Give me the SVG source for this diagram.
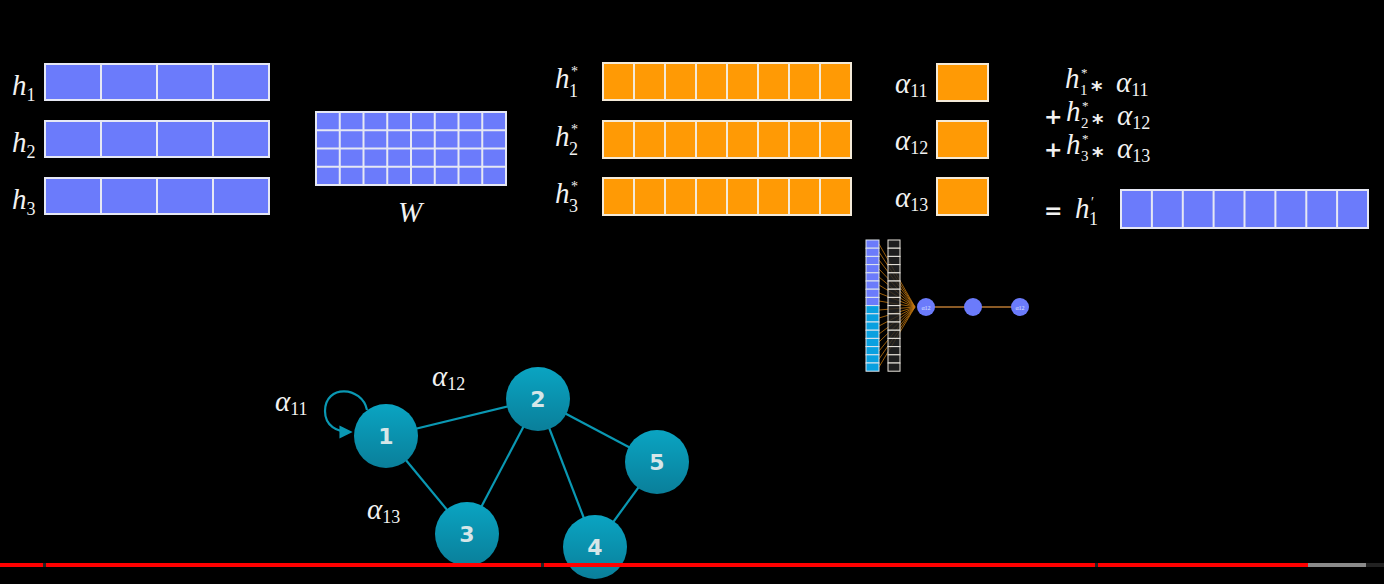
<svg xmlns="http://www.w3.org/2000/svg" width="1384" height="584" viewBox="0 0 1384 584">
<defs>
<style>
.m{font-family:"Liberation Serif","DejaVu Serif",serif;fill:#f2f2f2}
.it{font-style:italic}
.big{font-size:29px}
.sub{font-size:18px}
.fs{font-size:15px}
.fp{font-size:13px}
.sup{font-size:14px}
.op{font-family:"DejaVu Sans","Liberation Sans",sans-serif;font-size:22px;font-weight:bold}
.blue{fill:#6b7bfb;stroke:#e6e8f4;stroke-width:2}
.org{fill:#ff9a05;stroke:#f4ead8;stroke-width:2}
.div{stroke:#e6e8f4;stroke-width:2}
.odiv{stroke:#f4ead8;stroke-width:2}
.edge{stroke:#0a98b3;stroke-width:2.2;fill:none}
.node circle{fill:url(#ng)}
.node text{font-family:"DejaVu Sans","Liberation Sans",sans-serif;font-weight:bold;font-size:22px;fill:#d6e6e8;text-anchor:middle}
.fan{stroke:#e38c12;stroke-width:0.8;opacity:0.85}
.sc{fill:#6b7bfb}
</style>
<linearGradient id="ng" x1="0" y1="0" x2="0" y2="1">
<stop offset="0" stop-color="#0aa4c2"/>
<stop offset="1" stop-color="#0a7f9a"/>
</linearGradient>
<marker id="arr" viewBox="0 0 10 10" refX="8" refY="5" markerWidth="6" markerHeight="6" orient="auto">
<path d="M0,0 L10,5 L0,10 z" fill="#0a98b3"/>
</marker>
</defs>
<rect width="1384" height="584" fill="#000"/>

<!-- h vectors -->
<g id="h1">
<text class="m" x="12" y="95"><tspan class="it big">h</tspan><tspan class="sub" dy="6">1</tspan></text>
<rect class="blue" x="45" y="64" width="224" height="36"/>
<path class="div" d="M101 64V100M157 64V100M213 64V100"/>
</g>
<g id="h2">
<text class="m" x="12" y="152"><tspan class="it big">h</tspan><tspan class="sub" dy="6">2</tspan></text>
<rect class="blue" x="45" y="121" width="224" height="36"/>
<path class="div" d="M101 121V157M157 121V157M213 121V157"/>
</g>
<g id="h3">
<text class="m" x="12" y="209"><tspan class="it big">h</tspan><tspan class="sub" dy="6">3</tspan></text>
<rect class="blue" x="45" y="178" width="224" height="36"/>
<path class="div" d="M101 178V214M157 178V214M213 178V214"/>
</g>

<!-- W -->
<g id="W">
<rect class="blue" x="316" y="112" width="190" height="73"/>
<path class="div" d="M339.75 112V185M363.5 112V185M387.25 112V185M411 112V185M434.75 112V185M458.5 112V185M482.25 112V185M316 130.25H506M316 148.5H506M316 166.75H506"/>
<text class="m it big" x="410" y="222" text-anchor="middle">W</text>
</g>

<!-- h* vectors -->
<g id="hs1">
<text class="m" x="555" y="88"><tspan class="it big">h</tspan><tspan class="sup" x="571" y="76">*</tspan><tspan class="sub" x="569" y="97">1</tspan></text>
<rect class="org" x="603" y="63" width="248" height="37"/>
<path class="odiv" d="M634 63V100M665 63V100M696 63V100M727 63V100M758 63V100M789 63V100M820 63V100"/>
</g>
<g id="hs2">
<text class="m" x="555" y="146"><tspan class="it big">h</tspan><tspan class="sup" x="571" y="134">*</tspan><tspan class="sub" x="569" y="155">2</tspan></text>
<rect class="org" x="603" y="121" width="248" height="37"/>
<path class="odiv" d="M634 121V158M665 121V158M696 121V158M727 121V158M758 121V158M789 121V158M820 121V158"/>
</g>
<g id="hs3">
<text class="m" x="555" y="203"><tspan class="it big">h</tspan><tspan class="sup" x="571" y="191">*</tspan><tspan class="sub" x="569" y="212">3</tspan></text>
<rect class="org" x="603" y="178" width="248" height="37"/>
<path class="odiv" d="M634 178V215M665 178V215M696 178V215M727 178V215M758 178V215M789 178V215M820 178V215"/>
</g>

<!-- alpha boxes -->
<g id="a11">
<text class="m" x="895" y="93"><tspan class="it big">α</tspan><tspan class="sub" dy="4">11</tspan></text>
<rect class="org" x="937" y="64" width="51" height="37" stroke-width="1"/>
</g>
<g id="a12">
<text class="m" x="895" y="150"><tspan class="it big">α</tspan><tspan class="sub" dy="4">12</tspan></text>
<rect class="org" x="937" y="121" width="51" height="37" stroke-width="1"/>
</g>
<g id="a13">
<text class="m" x="895" y="207"><tspan class="it big">α</tspan><tspan class="sub" dy="4">13</tspan></text>
<rect class="org" x="937" y="178" width="51" height="37" stroke-width="1"/>
</g>

<!-- sum formula -->
<g id="formula">
<text class="m" x="1065" y="88"><tspan class="it big">h</tspan><tspan class="fp" x="1081" y="77">*</tspan><tspan class="fs" x="1080" y="95">1</tspan><tspan class="op" x="1091" y="97">*</tspan><tspan class="it big" x="1116" y="92">α</tspan><tspan class="sub" dy="4">11</tspan></text>
<text class="m" x="1044" y="121"><tspan class="op" y="124">+</tspan><tspan class="it big" x="1066" y="121">h</tspan><tspan class="fp" x="1082" y="110">*</tspan><tspan class="fs" x="1081" y="128">2</tspan><tspan class="op" x="1092" y="130">*</tspan><tspan class="it big" x="1117" y="125">α</tspan><tspan class="sub" dy="4">12</tspan></text>
<text class="m" x="1044" y="154"><tspan class="op" y="157">+</tspan><tspan class="it big" x="1066" y="154">h</tspan><tspan class="fp" x="1082" y="143">*</tspan><tspan class="fs" x="1081" y="161">3</tspan><tspan class="op" x="1092" y="163">*</tspan><tspan class="it big" x="1117" y="158">α</tspan><tspan class="sub" dy="4">13</tspan></text>
</g>
<g id="h1prime">
<text class="m" x="1044" y="218"><tspan class="op" font-weight="normal">=</tspan><tspan class="it big" x="1075">h</tspan><tspan class="sup" x="1091" y="207">′</tspan><tspan class="sub" x="1089" y="225">1</tspan></text>
<rect class="blue" x="1121" y="190" width="247" height="38"/>
<path class="div" d="M1151.9 190V228M1182.8 190V228M1213.6 190V228M1244.5 190V228M1275.4 190V228M1306.3 190V228M1337.1 190V228"/>
</g>

<!-- small network -->
<g id="mininet">
<g class="fan">
<line x1="879" y1="244" x2="915" y2="307"/><line x1="879" y1="252" x2="915" y2="307"/>
<line x1="879" y1="260" x2="915" y2="307"/><line x1="879" y1="269" x2="915" y2="307"/>
<line x1="879" y1="277" x2="915" y2="307"/><line x1="879" y1="285" x2="915" y2="307"/>
<line x1="879" y1="293" x2="915" y2="307"/><line x1="879" y1="301" x2="915" y2="307"/>
<line x1="879" y1="310" x2="915" y2="307"/><line x1="879" y1="318" x2="915" y2="307"/>
<line x1="879" y1="326" x2="915" y2="307"/><line x1="879" y1="334" x2="915" y2="307"/>
<line x1="879" y1="342" x2="915" y2="307"/><line x1="879" y1="351" x2="915" y2="307"/>
<line x1="879" y1="359" x2="915" y2="307"/><line x1="879" y1="367" x2="915" y2="307"/>
</g>
<g stroke="#dfe6ee" stroke-width="1">
<rect x="866" y="240" width="13" height="8.2" fill="#6b7bfb"/><rect x="866" y="248.2" width="13" height="8.2" fill="#6b7bfb"/>
<rect x="866" y="256.4" width="13" height="8.2" fill="#6b7bfb"/><rect x="866" y="264.6" width="13" height="8.2" fill="#6b7bfb"/>
<rect x="866" y="272.8" width="13" height="8.2" fill="#6b7bfb"/><rect x="866" y="281" width="13" height="8.2" fill="#6b7bfb"/>
<rect x="866" y="289.2" width="13" height="8.2" fill="#6b7bfb"/><rect x="866" y="297.4" width="13" height="8.2" fill="#6b7bfb"/>
<rect x="866" y="305.6" width="13" height="8.2" fill="#09a0e0"/><rect x="866" y="313.8" width="13" height="8.2" fill="#09a0e0"/>
<rect x="866" y="322" width="13" height="8.2" fill="#09a0e0"/><rect x="866" y="330.2" width="13" height="8.2" fill="#09a0e0"/>
<rect x="866" y="338.4" width="13" height="8.2" fill="#09a0e0"/><rect x="866" y="346.6" width="13" height="8.2" fill="#09a0e0"/>
<rect x="866" y="354.8" width="13" height="8.2" fill="#09a0e0"/><rect x="866" y="363" width="13" height="8.2" fill="#09a0e0"/>
</g>
<g stroke="#e8e4dc" stroke-width="1" fill="#262626" fill-opacity="0.8">
<rect x="888" y="240" width="12" height="8.2"/><rect x="888" y="248.2" width="12" height="8.2"/>
<rect x="888" y="256.4" width="12" height="8.2"/><rect x="888" y="264.6" width="12" height="8.2"/>
<rect x="888" y="272.8" width="12" height="8.2"/><rect x="888" y="281" width="12" height="8.2"/>
<rect x="888" y="289.2" width="12" height="8.2"/><rect x="888" y="297.4" width="12" height="8.2"/>
<rect x="888" y="305.6" width="12" height="8.2"/><rect x="888" y="313.8" width="12" height="8.2"/>
<rect x="888" y="322" width="12" height="8.2"/><rect x="888" y="330.2" width="12" height="8.2"/>
<rect x="888" y="338.4" width="12" height="8.2"/><rect x="888" y="346.6" width="12" height="8.2"/>
<rect x="888" y="354.8" width="12" height="8.2"/><rect x="888" y="363" width="12" height="8.2"/>
</g>
<path d="M926 307H1020" stroke="#8a5a26" stroke-width="2"/>
<circle class="sc" cx="926" cy="307" r="9"/>
<circle class="sc" cx="973" cy="307" r="9"/>
<circle class="sc" cx="1020" cy="307" r="9"/>
<text x="926" y="309.5" font-family="Liberation Serif,serif" font-size="6" fill="#dfe4ff" text-anchor="middle">α12</text>
<text x="1020" y="309.5" font-family="Liberation Serif,serif" font-size="6" fill="#dfe4ff" text-anchor="middle">α12</text>
</g>

<!-- graph connectors -->
<g id="connectors">
<line class="edge" x1="386" y1="436" x2="538" y2="399"/>
<line class="edge" x1="386" y1="436" x2="467" y2="534"/>
<line class="edge" x1="538" y1="399" x2="467" y2="534"/>
<line class="edge" x1="538" y1="399" x2="595" y2="547"/>
<line class="edge" x1="538" y1="399" x2="657" y2="462"/>
<line class="edge" x1="657" y1="462" x2="595" y2="547"/>
<path class="edge" d="M367 410 C362 386 325 384 325 411 C325 426 337 432 350 432" marker-end="url(#arr)"/>
</g>

<text class="m" x="275" y="411"><tspan class="it big">α</tspan><tspan class="sub" dy="4">11</tspan></text>
<text class="m" x="432" y="386"><tspan class="it big">α</tspan><tspan class="sub" dy="4">12</tspan></text>
<text class="m" x="367" y="519"><tspan class="it big">α</tspan><tspan class="sub" dy="4">13</tspan></text>

<g id="n1" class="node"><circle cx="386" cy="436" r="32"/><text x="386" y="444">1</text></g>
<g id="n2" class="node"><circle cx="538" cy="399" r="32"/><text x="538" y="407">2</text></g>
<g id="n3" class="node"><circle cx="467" cy="534" r="32"/><text x="467" y="542">3</text></g>
<g id="n4" class="node"><circle cx="595" cy="547" r="32"/><text x="595" y="555">4</text></g>
<g id="n5" class="node"><circle cx="657" cy="462" r="32"/><text x="657" y="470">5</text></g>

<!-- progress bar -->
<g id="progress">
<rect x="0" y="563" width="1384" height="4" fill="#222"/>
<rect x="0" y="563" width="43" height="4" fill="#f00"/>
<rect x="46" y="563" width="495" height="4" fill="#f00"/>
<rect x="544" y="563" width="551" height="4" fill="#f00"/>
<rect x="1098" y="563" width="210" height="4" fill="#f00"/>
<rect x="1308" y="563" width="58" height="4" fill="#8a8a8a"/>
</g>
</svg>
